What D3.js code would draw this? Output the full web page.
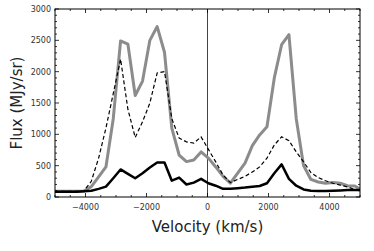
<!DOCTYPE html>
<html>
<head>
<title>Flux vs Velocity</title>
<style>
body { margin: 0; background: #fff; }
.tickLabel { font-family: "DejaVu Sans"; font-size: 8px; fill: #333; }
.axisLabel { font-family: "DejaVu Sans"; font-size: 15px; fill: #222; }
</style>
<script src="https://d3js.org/d3.v7.min.js"></script>
</head>
<body>
<svg id="chart" width="374" height="251"></svg>
<script>

// velocity channels (km/s)
var velocity = [-5010, -4770, -4530, -4290, -4050, -3810, -3570, -3330, -3090, -2850,
  -2610, -2370, -2130, -1890, -1650, -1410, -1170, -930, -690, -450,
  -210, 30, 270, 510, 750, 990, 1230, 1470, 1710, 1950,
  2190, 2430, 2670, 2910, 3150, 3390, 3630, 3870, 4110, 4350,
  4590, 4830, 5070];

// thick grey line
var fluxGrey = [90, 90, 90, 90, 95, 165, 320, 480, 1250, 2490,
  2440, 1620, 1850, 2500, 2720, 2310, 1100, 670, 565, 590,
  720, 620, 480, 330, 220, 380, 540, 820, 990, 1120,
  1900, 2430, 2590, 1250, 500, 280, 240, 220, 230, 220,
  180, 175, 110];

// dashed black line
var fluxDashed = [90, 90, 90, 90, 100, 250, 620, 1100, 1650, 2200,
  1400, 950, 1200, 1500, 1980, 2000, 1250, 940, 880, 860,
  960, 760, 560, 350, 230, 280, 330, 400, 480, 620,
  830, 960, 900, 720, 560, 390, 310, 260, 220, 190,
  160, 120, 100];

// solid black line
var fluxBlack = [85, 85, 85, 85, 90, 100, 130, 165, 300, 440,
  370, 300, 380, 470, 550, 550, 260, 310, 200, 230,
  290, 220, 180, 130, 130, 140, 150, 165, 175, 220,
  380, 520, 290, 180, 120, 100, 95, 95, 100, 105,
  110, 110, 110];

var xTicks = [-4000, -2000, 0, 2000, 4000];
var yTicks = [0, 500, 1000, 1500, 2000, 2500, 3000];

var width = 374, height = 251;
var margin = {top: 9, right: 14, bottom: 54, left: 55};

var x = d3.scaleLinear().domain([-5000, 5000]).range([margin.left, width - margin.right]);
var y = d3.scaleLinear().domain([0, 3000]).range([height - margin.bottom, margin.top]);

var svg = d3.select('#chart');

svg.append("clipPath").attr("id", "plotClip")
  .append("rect")
  .attr("x", margin.left).attr("y", margin.top)
  .attr("width", width - margin.left - margin.right)
  .attr("height", height - margin.top - margin.bottom);

// vertical line at zero velocity
svg.append("line")
  .attr("x1", x(0)).attr("x2", x(0))
  .attr("y1", y(3000)).attr("y2", y(0))
  .attr("stroke", "#444").attr("stroke-width", 1);

function series(vals) {
  return velocity.map(function(v, i) { return {v: v, f: vals[i]}; });
}

var line = d3.line()
  .x(function(d) { return x(d.v); })
  .y(function(d) { return y(d.f); });

var plot = svg.append("g").attr("clip-path", "url(#plotClip)");

plot.append("path").datum(series(fluxGrey))
  .attr("fill", "none").attr("stroke", "#8c8c8c").attr("stroke-width", 3)
  .attr("stroke-linejoin", "round").attr("d", line);

plot.append("path").datum(series(fluxDashed))
  .attr("fill", "none").attr("stroke", "#000").attr("stroke-width", 1.2)
  .attr("stroke-dasharray", "4,2.5").attr("d", line);

plot.append("path").datum(series(fluxBlack))
  .attr("fill", "none").attr("stroke", "#000").attr("stroke-width", 2.5)
  .attr("stroke-linejoin", "round").attr("d", line);

// ticks pointing inwards on all four sides
var xMinor = d3.range(-5000, 5001, 500);
var yMinor = d3.range(0, 3001, 100);
var x0 = margin.left, x1 = width - margin.right;
var y0 = height - margin.bottom, y1 = margin.top;
var ticks = svg.append("g").attr("stroke", "#000").attr("stroke-width", 0.8);

xMinor.forEach(function(v) {
  var len = (v % 2000 == 0) ? 4 : 2;
  ticks.append("line").attr("x1", x(v)).attr("x2", x(v)).attr("y1", y0).attr("y2", y0 - len);
  ticks.append("line").attr("x1", x(v)).attr("x2", x(v)).attr("y1", y1).attr("y2", y1 + len);
});
yMinor.forEach(function(f) {
  var len = (f % 500 == 0) ? 4 : 2;
  ticks.append("line").attr("x1", x0).attr("x2", x0 + len).attr("y1", y(f)).attr("y2", y(f));
  ticks.append("line").attr("x1", x1).attr("x2", x1 - len).attr("y1", y(f)).attr("y2", y(f));
});

// frame
svg.append("rect")
  .attr("x", x0).attr("y", y1)
  .attr("width", x1 - x0).attr("height", y0 - y1)
  .attr("fill", "none").attr("stroke", "#000").attr("stroke-width", 1);

var fmt = function(v) { return v < 0 ? "\u2212" + Math.abs(v) : String(v); };

svg.selectAll(".xt").data(xTicks).join("text")
  .attr("class", "tickLabel")
  .attr("x", function(d) { return x(d); })
  .attr("y", y0 + 13)
  .attr("text-anchor", "middle")
  .text(fmt);

svg.selectAll(".yt").data(yTicks).join("text")
  .attr("class", "tickLabel")
  .attr("x", x0 - 4)
  .attr("y", function(d) { return y(d) + 3; })
  .attr("text-anchor", "end")
  .text(fmt);

svg.append("text")
  .attr("class", "axisLabel")
  .attr("x", (x0 + x1) / 2)
  .attr("y", 232)
  .attr("text-anchor", "middle")
  .text("Velocity (km/s)");

svg.append("text")
  .attr("class", "axisLabel")
  .attr("text-anchor", "middle")
  .attr("transform", "translate(22," + ((y0 + y1) / 2) + ") rotate(-90)")
  .text("Flux (MJy/sr)");

</script>
</body>
</html>
